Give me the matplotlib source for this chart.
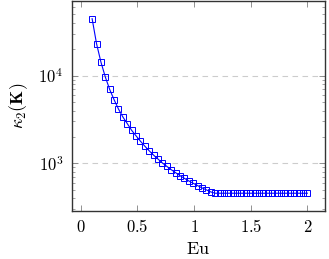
import numpy as np
import matplotlib
matplotlib.use("Agg")
import matplotlib.pyplot as plt

# values (Eu on a 50-point grid from 0.1 to 2)
eu = np.linspace(0.1, 2.0, 50)
kappa = [44500, 23200, 14300, 9660, 6950, 5310, 4160, 3380, 2840, 2380,
         2060, 1790, 1570, 1390, 1240, 1120, 1010, 925, 848, 784,
         725, 676, 631, 594, 559, 526, 499, 473] + [457] * 22

x_ticks = [0, 0.5, 1, 1.5, 2]
x_ticklabels = [r"$0$", r"$0.5$", r"$1$", r"$1.5$", r"$2$"]

plt.rcParams['mathtext.fontset'] = 'cm'
plt.rcParams['font.family'] = 'serif'
plt.rcParams['font.serif'] = ['DejaVu Serif']

fig = plt.figure(figsize=(3.29, 2.59), dpi=100)
ax = fig.add_axes([0.218, 0.187, 0.770, 0.809])

ax.plot(eu, kappa, color='#0000ff', lw=0.8, marker='s', markersize=5,
        markerfacecolor='none', markeredgecolor='#0000ff', markeredgewidth=0.7)

ax.set_yscale('log')
ax.set_xlim(-0.08, 2.156)
ax.set_ylim(290, 70700)

ax.set_xticks(x_ticks)
ax.set_xticklabels(x_ticklabels)
ax.set_yticks([1e3, 1e4])
ax.set_yticklabels([r'$10^3$', r'$10^4$'])

ax.tick_params(axis='both', which='major', direction='in', top=True, right=True,
               length=4, width=0.6, color='#808080', labelsize=12, pad=6)
ax.tick_params(axis='y', which='minor', direction='in', left=True, right=True,
               length=2.5, width=0.5, color='#808080', labelleft=False)
ax.tick_params(axis='x', which='minor', bottom=False, top=False)

ax.grid(axis='y', which='major', linestyle=(0, (5, 4)), color='#cccccc', lw=0.8)
ax.set_axisbelow(True)

for s in ax.spines.values():
    s.set_color('#333333')
    s.set_linewidth(1.0)

ax.set_xlabel(r'$\mathrm{Eu}$', fontsize=13, labelpad=3)
ax.set_ylabel(r'$\kappa_2(\mathbf{K})$', fontsize=13, labelpad=6)

fig.savefig('out.png', dpi=100)
